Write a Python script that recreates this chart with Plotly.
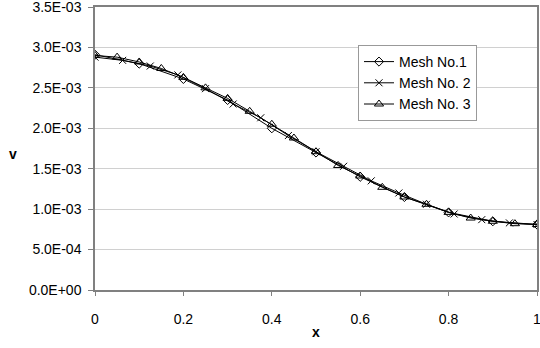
import plotly.graph_objects as go

# Mesh No.1 (diamonds)
x1 = [0.0, 0.1, 0.2, 0.3, 0.4, 0.5, 0.6, 0.7, 0.8, 0.9, 1.0]
v1 = [2.91e-3, 2.80e-3, 2.61e-3, 2.35e-3, 2.00e-3, 1.70e-3, 1.40e-3, 1.15e-3, 0.96e-3, 0.85e-3, 0.81e-3]

# Mesh No. 2 (crosses)
x2 = [0.0, 0.0625, 0.125, 0.1875, 0.25, 0.3125, 0.375, 0.4375, 0.5, 0.5625,
      0.625, 0.6875, 0.75, 0.8125, 0.875, 0.9375, 1.0]
v2 = [2.88e-3, 2.84e-3, 2.77e-3, 2.66e-3, 2.49e-3, 2.30e-3, 2.13e-3, 1.91e-3, 1.71e-3, 1.53e-3,
      1.35e-3, 1.20e-3, 1.06e-3, 0.94e-3, 0.87e-3, 0.83e-3, 0.81e-3]

# Mesh No. 3 (triangles)
x3 = [0.0, 0.05, 0.1, 0.15, 0.2, 0.25, 0.3, 0.35, 0.4, 0.45, 0.5,
      0.55, 0.6, 0.65, 0.7, 0.75, 0.8, 0.85, 0.9, 0.95, 1.0]
v3 = [2.90e-3, 2.88e-3, 2.82e-3, 2.74e-3, 2.63e-3, 2.50e-3, 2.37e-3, 2.21e-3, 2.05e-3, 1.88e-3, 1.71e-3,
      1.54e-3, 1.41e-3, 1.27e-3, 1.15e-3, 1.06e-3, 0.96e-3, 0.89e-3, 0.85e-3, 0.82e-3, 0.81e-3]

names = ["Mesh No.1", "Mesh No. 2", "Mesh No. 3"]

y_tickvals = [0, 0.5e-3, 1.0e-3, 1.5e-3, 2.0e-3, 2.5e-3, 3.0e-3, 3.5e-3]
y_ticktext = ["0.0E+00", "5.0E-04", "1.0E-03", "1.5E-03", "2.0E-03", "2.5E-03", "3.0E-03", "3.5E-03"]
x_tickvals = [0, 0.2, 0.4, 0.6, 0.8, 1.0]
x_ticktext = ["0", "0.2", "0.4", "0.6", "0.8", "1"]

FONT = "Liberation Sans, Arial, sans-serif"
ML, MR, MT, MB = 95, 3, 7, 58

fig = go.Figure()
fig.add_trace(go.Scatter(x=x1, y=v1, name=names[0], mode="lines+markers",
                         line=dict(color="black", width=1),
                         marker=dict(symbol="diamond-open", size=7, color="black", line=dict(width=1))))
fig.add_trace(go.Scatter(x=x2, y=v2, name=names[1], mode="lines+markers",
                         line=dict(color="black", width=1),
                         marker=dict(symbol="x-thin-open", size=7, color="black", line=dict(width=1, color="black"))))
fig.add_trace(go.Scatter(x=x3, y=v3, name=names[2], mode="lines+markers",
                         line=dict(color="black", width=1),
                         marker=dict(symbol="triangle-up-open", size=8, color="black", line=dict(width=1))))

plot_w = 540 - ML - MR
plot_h = 348 - MT - MB

fig.update_layout(
    width=540, height=348,
    margin=dict(l=ML, r=MR, t=MT, b=MB),
    paper_bgcolor="white", plot_bgcolor="white",
    font=dict(family=FONT, size=14, color="black"),
    showlegend=True,
    legend=dict(x=(358 - ML) / plot_w, y=(348 - MB - 45) / plot_h, xanchor="left", yanchor="top",
                bordercolor="#999999", borderwidth=1, bgcolor="white",
                font=dict(size=14), tracegroupgap=0, itemwidth=30),
    xaxis=dict(range=[0, 1], tickvals=x_tickvals, ticktext=x_ticktext,
               showgrid=False, zeroline=False, showline=True, linecolor="#808080",
               linewidth=1.5, mirror=True, ticks="outside", ticklen=4, tickcolor="#808080",
               ticklabelstandoff=11, ticklabeloverflow="allow", automargin=False),
    yaxis=dict(range=[0, 3.5e-3], tickvals=y_tickvals, ticktext=y_ticktext,
               showgrid=True, gridcolor="#d0d0d0", gridwidth=1, zeroline=False,
               showline=True, linecolor="#808080", linewidth=1.5, mirror=True,
               ticks="outside", ticklen=5, tickcolor="#808080", ticklabelstandoff=4,
               ticklabeloverflow="allow", automargin=False),
    annotations=[
        dict(text="<b>v</b>", x=(7 - ML) / plot_w, y=(348 - MB - 154) / plot_h,
             xref="paper", yref="paper", showarrow=False, font=dict(size=14)),
        dict(text="<b>x</b>", x=(316 - ML) / plot_w, y=(348 - MB - 342) / plot_h,
             xref="paper", yref="paper", showarrow=False, font=dict(size=14)),
    ],
)

fig.write_html("out.html")
